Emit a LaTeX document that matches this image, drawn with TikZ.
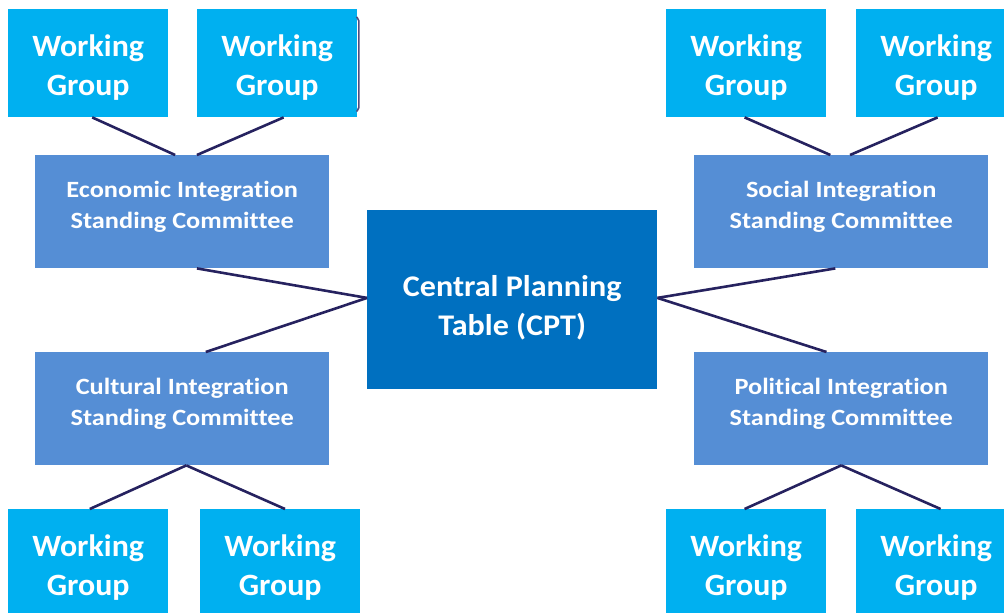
\documentclass[tikz,border=0pt]{standalone}
\usepackage{fontspec}
\setmainfont{Carlito}[Ligatures=NoCommon]
\newfontfamily\wgfont{Carlito}[Ligatures=NoCommon, FakeStretch=1.03]
\newfontfamily\scfont{Carlito}[Ligatures=NoCommon, FakeStretch=1.13]
\newfontfamily\cptfont{Carlito}[Ligatures=NoCommon, FakeStretch=1.07]
\usetikzlibrary{calc}
\definecolor{wgblue}{HTML}{00B0F0}
\definecolor{scblue}{HTML}{558ED5}
\definecolor{cptblue}{HTML}{0070C0}
\definecolor{linknavy}{HTML}{26225F}
\tikzset{
  wgbox/.style={rectangle, fill=wgblue, inner sep=0pt, anchor=north west},
  scbox/.style={rectangle, fill=scblue, inner sep=0pt, anchor=north west,
                minimum width=294pt, minimum height=113pt},
  cptbox/.style={rectangle, fill=cptblue, inner sep=0pt, anchor=north west,
                minimum width=290pt, minimum height=179pt},
  wgtext/.style={text=white, align=center, inner sep=0pt,
                 font=\wgfont\bfseries\fontsize{31}{39}\selectfont},
  sctext/.style={text=white, align=center, inner sep=0pt,
                 font=\scfont\bfseries\fontsize{23.3}{31.6}\selectfont},
  cpttext/.style={text=white, align=center, inner sep=0pt,
                  font=\cptfont\bfseries\fontsize{30}{39}\selectfont},
  link/.style={draw=linknavy, line width=2.6pt}
}
\begin{document}
\begin{tikzpicture}[x=1pt,y=-1pt]
\useasboundingbox (0,0) rectangle (1004,613);

% central planning table
\node[cptbox] (cpt) at (367,210) {};
\node[cpttext] (cptT) at ($(cpt.center)+(0,8)$) {Central Planning\\Table (CPT)};

% standing committees
\node[scbox] (econ) at (35,155) {};
\node[sctext] (econT) at ($(econ.center)+(0,-5)$) {Economic Integration\\Standing Committee};
\node[scbox] (cult) at (35,352) {};
\node[sctext] (cultT) at ($(cult.center)+(0,-5)$) {Cultural Integration\\Standing Committee};
\node[scbox] (soc) at (694,155) {};
\node[sctext] (socT) at ($(soc.center)+(0,-5)$) {Social Integration\\Standing Committee};
\node[scbox] (pol) at (694,352) {};
\node[sctext] (polT) at ($(pol.center)+(0,-5)$) {Political Integration\\Standing Committee};

% working groups, top row
\node[wgbox, minimum width=160pt, minimum height=108pt] (wg1) at (8,9) {};
\node[wgbox, minimum width=160pt, minimum height=108pt] (wg2) at (197,9) {};
\node[wgbox, minimum width=160pt, minimum height=108pt] (wg3) at (666,9) {};
\node[wgbox, minimum width=148pt, minimum height=108pt] (wg4) at (856,9) {};
% working groups, bottom row
\node[wgbox, minimum width=160pt, minimum height=104pt] (wg5) at (8,509) {};
\node[wgbox, minimum width=160pt, minimum height=104pt] (wg6) at (200,509) {};
\node[wgbox, minimum width=160pt, minimum height=104pt] (wg7) at (666,509) {};
\node[wgbox, minimum width=148pt, minimum height=104pt] (wg8) at (856,509) {};

\foreach \w/\dx/\dy in {wg1/0/4, wg2/0/4, wg3/0/4, wg4/6/4, wg5/0/6, wg6/0/6, wg7/0/6, wg8/6/6}
  \node[wgtext] (\w T) at ($(\w.center)+(\dx,\dy)$) {Working\\Group};

% edge line beside the second working group
\draw[draw=linknavy!80, line width=1.6pt, rounded corners=2pt]
  ($(wg2.north east)+(-1,8)$) -- ($(wg2.north east)+(1.5,10)$)
  -- ($(wg2.south east)+(1.5,-8)$) -- ($(wg2.south east)+(-1,-6)$);

% connectors: working groups to committees
\draw[link] ($(wg1.south west)!0.525!(wg1.south east)$) -- ($(econ.north west)!0.476!(econ.north east)$);
\draw[link] ($(wg2.south west)!0.54!(wg2.south east)$) -- ($(econ.north west)!0.55!(econ.north east)$);
\draw[link] ($(wg3.south west)!0.49!(wg3.south east)$) -- ($(soc.north west)!0.463!(soc.north east)$);
\draw[link] ($(wg4.south west)!0.55!(wg4.south east)$) -- ($(soc.north west)!0.53!(soc.north east)$);
\draw[link] ($(cult.south west)!0.514!(cult.south east)$) -- ($(wg5.north west)!0.51!(wg5.north east)$);
\draw[link] ($(cult.south west)!0.514!(cult.south east)$) -- ($(wg6.north west)!0.53!(wg6.north east)$);
\draw[link] ($(pol.south west)!0.5!(pol.south east)$) -- ($(wg7.north west)!0.49!(wg7.north east)$);
\draw[link] ($(pol.south west)!0.5!(pol.south east)$) -- ($(wg8.north west)!0.57!(wg8.north east)$);

% connectors: committees to the central table
\coordinate (cptL) at ($(cpt.north west)!0.49!(cpt.south west)$);
\coordinate (cptR) at ($(cpt.north east)!0.49!(cpt.south east)$);
\draw[link] ($(econ.south west)!0.55!(econ.south east)$) -- (cptL);
\draw[link] ($(cult.north west)!0.58!(cult.north east)$) -- (cptL);
\draw[link] ($(soc.south west)!0.48!(soc.south east)$) -- (cptR);
\draw[link] ($(pol.north west)!0.45!(pol.north east)$) -- (cptR);
\end{tikzpicture}
\end{document}
